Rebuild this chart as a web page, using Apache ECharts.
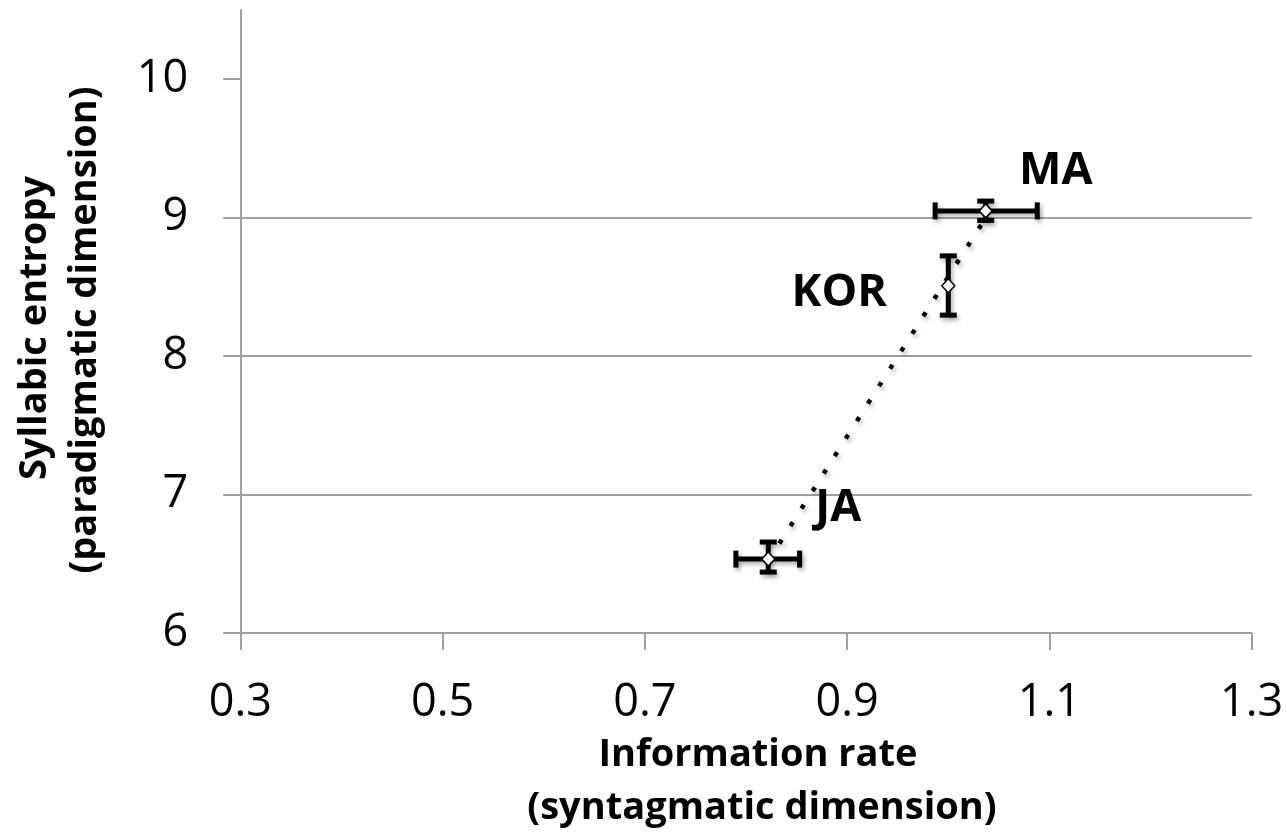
<!DOCTYPE html>
<html><head><meta charset="utf-8">
<script src="https://cdn.jsdelivr.net/npm/echarts@6/dist/echarts.min.js"></script>
<style>html,body{margin:0;padding:0;background:#fff}#c{width:1287px;height:832px}</style>
</head><body><div id="c"></div><script>
// ---- data ----
const languages = ['JA', 'KOR', 'MA'];
const infoRate = [0.822, 1.000, 1.037];
const entropy = [6.534, 8.508, 9.049];
const infoRateLow = [0.790, null, 0.987];
const infoRateHigh = [0.853, null, 1.088];
const entropyLow = [6.44, 8.296, 8.98];
const entropyHigh = [6.657, 8.724, 9.12];
const trendX = [0.822, 1.037];
const trendY = [6.52, 9.00];
const xTicks = [0.3, 0.5, 0.7, 0.9, 1.1, 1.3];
const yTicks = [6, 7, 8, 9, 10];
const xTitle = ['Information rate', '(syntagmatic dimension)'];
const yTitle = ['Syllabic entropy', '(paradigmatic dimension)'];

// label placement (pixels, relative to the point)
const labelOffsets = { JA: [70, -51], KOR: [-109, 7], MA: [70, -40] };

const FONT = '"Open Sans", "DejaVu Sans", sans-serif';
const AXIS_COLOR = '#a0a0a0';
const shadow = { shadowColor: 'rgba(0,0,0,0.3)', shadowBlur: 4, shadowOffsetX: 2, shadowOffsetY: 3 };

const chart = echarts.init(document.getElementById('c'), null, { renderer: 'canvas' });

const pointData = languages.map((n, i) => ({
  name: n,
  value: [infoRate[i], entropy[i]],
  label: { offset: labelOffsets[n] }
}));

const option = {
  animation: false,
  backgroundColor: '#fff',
  grid: { left: 240.3, right: 35.3, top: 10, bottom: 199, containLabel: false },
  xAxis: {
    type: 'value', min: 0.3, max: 1.3,
    axisLine: { show: true, lineStyle: { color: AXIS_COLOR, width: 2 } },
    axisTick: { show: true, customValues: xTicks, length: 17, lineStyle: { color: AXIS_COLOR, width: 2 } },
    axisLabel: { customValues: xTicks, margin: 48, fontSize: 45, fontFamily: FONT, color: '#000',
      formatter: v => v.toFixed(1) },
    splitLine: { show: false }
  },
  yAxis: {
    type: 'value', min: 6, max: 10.5, interval: 1,
    axisLine: { show: true, lineStyle: { color: AXIS_COLOR, width: 2 } },
    axisTick: { show: true, customValues: yTicks, length: 17, lineStyle: { color: AXIS_COLOR, width: 2 } },
    axisLabel: { customValues: yTicks, margin: 52, fontSize: 45, fontFamily: FONT, color: '#000' },
    splitLine: { show: true, showMinLine: false, showMaxLine: false, lineStyle: { color: AXIS_COLOR, width: 2 } }
  },
  graphic: [
    { type: 'text', x: 758, y: 755, z: 100,
      style: { text: xTitle[0], font: 'bold 38px ' + FONT, fill: '#000', textAlign: 'center', textVerticalAlign: 'middle' } },
    { type: 'text', x: 762, y: 808, z: 100,
      style: { text: xTitle[1], font: 'bold 38px ' + FONT, fill: '#000', textAlign: 'center', textVerticalAlign: 'middle' } },
    { type: 'text', x: 35, y: 328, rotation: Math.PI / 2, z: 100,
      style: { text: yTitle[0], font: 'bold 38px ' + FONT, fill: '#000', textAlign: 'center', textVerticalAlign: 'middle' } },
    { type: 'text', x: 85, y: 330, rotation: Math.PI / 2, z: 100,
      style: { text: yTitle[1], font: 'bold 38px ' + FONT, fill: '#000', textAlign: 'center', textVerticalAlign: 'middle' } }
  ],
  series: [
    {
      type: 'line', z: 2,
      data: trendX.map((x, i) => [x, trendY[i]]),
      symbol: 'none',
      lineStyle: Object.assign({ color: '#000', width: 4.5, type: [4.5, 16.2], cap: 'butt', opacity: 1 }, shadow)
    },
    {
      type: 'custom', z: 3,
      data: languages.map((n, i) => [infoRate[i], entropy[i]]),
      encode: { x: 0, y: 1 },
      renderItem: function (params, api) {
        const i = params.dataIndex;
        const cap = 8.5;
        const st = Object.assign({ stroke: '#000', lineWidth: 5, lineCap: 'butt' }, shadow);
        const kids = [];
        const line = (a, b) => kids.push({ type: 'line', shape: { x1: a[0], y1: a[1], x2: b[0], y2: b[1] }, style: st });
        if (infoRateLow[i] != null) {
          const l = api.coord([infoRateLow[i], entropy[i]]);
          const h = api.coord([infoRateHigh[i], entropy[i]]);
          line(l, h);
          line([l[0], l[1] - cap], [l[0], l[1] + cap]);
          line([h[0], h[1] - cap], [h[0], h[1] + cap]);
        }
        if (entropyLow[i] != null) {
          const l = api.coord([infoRate[i], entropyLow[i]]);
          const h = api.coord([infoRate[i], entropyHigh[i]]);
          line(l, h);
          line([l[0] - cap, l[1]], [l[0] + cap, l[1]]);
          line([h[0] - cap, h[1]], [h[0] + cap, h[1]]);
        }
        return { type: 'group', children: kids };
      }
    },
    {
      type: 'scatter', z: 4,
      data: pointData,
      symbol: 'diamond', symbolSize: [13, 14],
      itemStyle: { color: '#fff', borderColor: '#000', borderWidth: 1.5, opacity: 1 },
      label: { show: true, position: 'inside', formatter: '{b}', fontFamily: FONT, fontWeight: 'bold', fontSize: 45, color: '#000', opacity: 1 },
      emphasis: { disabled: true }
    }
  ]
};
chart.setOption(option);
</script></body></html>
